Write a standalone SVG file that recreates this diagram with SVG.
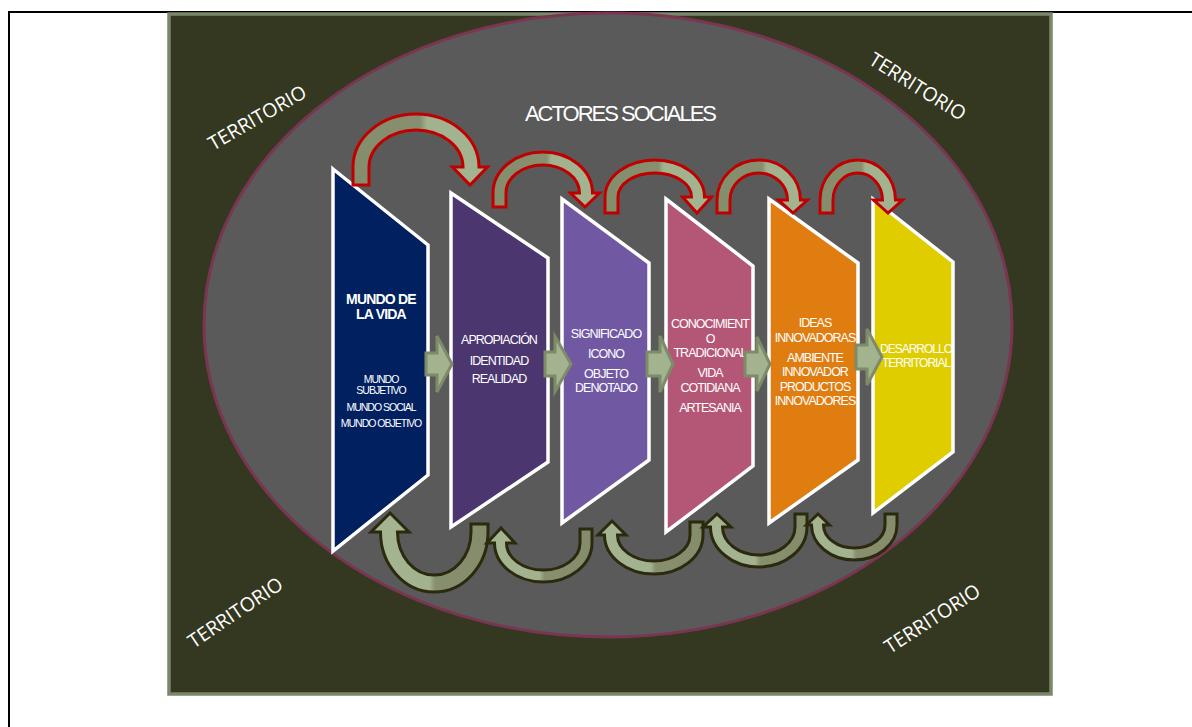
<svg xmlns="http://www.w3.org/2000/svg" width="1192" height="727" viewBox="0 0 1192 727">
<defs>
<style>
.sh{stroke:#ffffff;stroke-width:3.5;stroke-linejoin:miter}
.t{font-family:"Liberation Sans",Arial,sans-serif;fill:#ffffff;text-anchor:middle;font-size:12.5px;letter-spacing:-1px}
.tb{font-family:"Liberation Sans",Arial,sans-serif;fill:#ffffff;text-anchor:middle;font-size:14px;font-weight:bold;letter-spacing:-0.8px}
.ts{font-family:"Liberation Sans",Arial,sans-serif;fill:#ffffff;text-anchor:middle;font-size:10.5px;letter-spacing:-1px}
.terr{font-family:"Open Sans","Noto Sans",sans-serif;fill:#ffffff;text-anchor:middle;font-size:19.5px;dominant-baseline:central}
.blk{fill:#a3b38f;stroke:#7d8b68;stroke-width:3;stroke-linejoin:miter}
.top{fill:url(#gTop);stroke:#c00000;stroke-width:3;stroke-linejoin:miter}
.bot{fill:url(#gBot);stroke:#2b2a0e;stroke-width:3;stroke-linejoin:miter}
</style>
<linearGradient id="gTop" x1="0" y1="0" x2="1" y2="0">
<stop offset="0" stop-color="#858e6c"/>
<stop offset="0.5" stop-color="#878f6e"/>
<stop offset="0.55" stop-color="#a3b28e"/>
<stop offset="1" stop-color="#a5b490"/>
</linearGradient>
<linearGradient id="gBot" x1="0" y1="0" x2="1" y2="0">
<stop offset="0" stop-color="#a6b591"/>
<stop offset="0.5" stop-color="#a3b28e"/>
<stop offset="0.55" stop-color="#878f6e"/>
<stop offset="1" stop-color="#848c6b"/>
</linearGradient>
</defs>
<rect width="1192" height="727" fill="#ffffff"/>
<path d="M9,727 L9,12 L1192,12" fill="none" stroke="#000000" stroke-width="2"/>
<g id="panel">
<rect x="169" y="14" width="882" height="680" fill="#343820" stroke="#7b876b" stroke-width="3.5"/>
</g>
<g id="actores">
<ellipse cx="608" cy="325" rx="404" ry="312" fill="#5a5a5a" stroke="#7b3552" stroke-width="3"/>
<text x="620" y="121" font-family="Liberation Sans, Arial, sans-serif" font-size="22" fill="#ffffff" text-anchor="middle" letter-spacing="-2">ACTORES SOCIALES</text>
</g>
<g id="territorio">
<text class="terr" transform="translate(257,117) rotate(-30)">TERRITORIO</text>
<text class="terr" transform="translate(918,86) rotate(32)">TERRITORIO</text>
<text class="terr" transform="translate(235,612) rotate(-34)">TERRITORIO</text>
<text class="terr" transform="translate(932,618) rotate(-33)">TERRITORIO</text>
</g>
<g id="n1">
<polygon class="sh" fill="#002060" points="333,169 428,245 428,475 333,551"/>
<text class="tb" x="381" y="304">MUNDO DE</text>
<text class="tb" x="381" y="319">LA VIDA</text>
<text class="ts" x="381" y="383">MUNDO</text>
<text class="ts" x="381" y="394">SUBJETIVO</text>
<text class="ts" x="381" y="410.5">MUNDO SOCIAL</text>
<text class="ts" x="381" y="426.5">MUNDO OBJETIVO</text>
</g>
<g id="n2">
<polygon class="sh" fill="#4b3670" points="451,193 548,258 548,462 451,527"/>
<text class="t" x="499" y="344">APROPIACIÓN</text>
<text class="t" x="499" y="364.7">IDENTIDAD</text>
<text class="t" x="499" y="383.3">REALIDAD</text>
</g>
<g id="n3">
<polygon class="sh" fill="#7058a3" points="562,199 649,263 649,460 562,523"/>
<text class="t" x="606" y="338.3">SIGNIFICADO</text>
<text class="t" x="606" y="358.3">ICONO</text>
<text class="t" x="606" y="378.3">OBJETO</text>
<text class="t" x="606" y="392.3">DENOTADO</text>
</g>
<g id="n4">
<polygon class="sh" fill="#b45675" points="666,199 753,266 753,466 666,532"/>
<text class="t" x="710" y="327.7">CONOCIMIENT</text>
<text class="t" x="710" y="342.7">O</text>
<text class="t" x="710" y="356.7">TRADICIONAL</text>
<text class="t" x="710" y="376.7">VIDA</text>
<text class="t" x="710" y="391.7">COTIDIANA</text>
<text class="t" x="710" y="411.7">ARTESANIA</text>
</g>
<g id="n5">
<polygon class="sh" fill="#e07d10" points="769,199 858,263 858,460 769,523"/>
<text class="t" x="815" y="326.7">IDEAS</text>
<text class="t" x="815" y="341.7">INNOVADORAS</text>
<text class="t" x="815" y="361.7">AMBIENTE</text>
<text class="t" x="815" y="376">INNOVADOR</text>
<text class="t" x="815" y="390.7">PRODUCTOS</text>
<text class="t" x="815" y="405">INNOVADORES</text>
</g>
<g id="n6">
<polygon class="sh" fill="#e0cd00" points="873,199 953,262 953,452 873,513"/>
<text class="t" x="916" y="352.7" style="font-size:12px">DESARROLLO</text>
<text class="t" x="916" y="366.7" style="font-size:12px">TERRITORIAL</text>
</g>
<g id="connectors">
<polygon class="blk" points="426,353 437,353 437,336 452,364 437,392 437,375 426,375"/>
<polygon class="blk" points="545,352 555,352 555,336.5 571,364 555,391.5 555,376 545,376"/>
<polygon class="blk" points="647,352 660,352 660,336 673,364 660,392 660,376 647,376"/>
<polygon class="blk" points="745,352 757,352 757,337 770,364 757,391 757,376 745,376"/>
<polygon class="blk" points="856,345 867,345 867,329 882,357 867,385 867,369 856,369"/>
<path class="top" d="M353,185 L353,167 A63,53 0 0 1 479,167 L487.5,167 L470,185 L452.5,167 L463,167 A47,37 0 0 0 369,167 L369,185 Z"/>
<path class="top" d="M493,207 L493,193 A49.75,41 0 0 1 592.5,193 L599.5,193 L585,207 L570.5,193 L579.5,193 A36.75,28 0 0 0 506,193 L506,207 Z"/>
<path class="top" d="M605,213 L605,197 A49.75,37 0 0 1 704.5,197 L711.5,197 L697,213 L682.5,197 L691.5,197 A36.75,24 0 0 0 618,197 L618,213 Z"/>
<path class="top" d="M717,213 L717,200 A41.75,40 0 0 1 800.5,200 L807.5,200 L793,213 L778.5,200 L787.5,200 A28.75,27 0 0 0 730,200 L730,213 Z"/>
<path class="top" d="M820,213 L820,200 A37.75,40 0 0 1 895.5,200 L902.5,200 L888,213 L873.5,200 L882.5,200 A24.75,27 0 0 0 833,200 L833,213 Z"/>
<path class="bot" d="M488,524 L488,532 A53.75,60 0 0 1 380.5,532 L371,532 L390,513 L409,532 L397.5,532 A36.75,43 0 0 0 471,532 L471,524 Z"/>
<path class="bot" d="M592,529 L592,543 A48.75,39 0 0 1 494.5,543 L487,543 L501,528 L515,543 L506.5,543 A36.75,27 0 0 0 580,543 L580,529 Z"/>
<path class="bot" d="M703,522 L703,535 A49.25,39 0 0 1 604.5,535 L598,535 L612,521 L626,535 L617.5,535 A36.25,26 0 0 0 690,535 L690,522 Z"/>
<path class="bot" d="M807,514 L807,527 A48.25,40 0 0 1 710.5,527 L703,527 L717,514 L731,527 L722.5,527 A36.25,28 0 0 0 795,527 L795,514 Z"/>
<path class="bot" d="M897,514 L897,525 A42.75,35 0 0 1 811.5,525 L806.5,525 L818,514 L829.5,525 L823.5,525 A30.75,23 0 0 0 885,525 L885,514 Z"/>
</g>
</svg>
